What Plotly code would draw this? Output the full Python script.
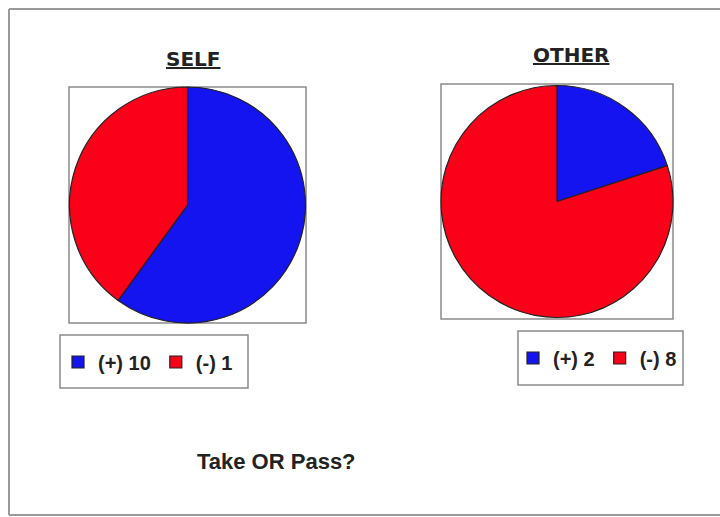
import plotly.graph_objects as go

# Slice data for the two pies
self_labels = ["(+) 10", "(-) 1"]
self_values = [60, 40]
other_labels = ["(+) 2", "(-) 8"]
other_values = [20, 80]
slice_colors = ["#1414F0", "#FA0019"]

W, H = 720, 517


def px_x(v):
    return v / W


def px_y(v):
    return 1 - v / H


fig = go.Figure()

fig.add_trace(go.Pie(
    labels=self_labels, values=self_values, sort=False, direction="clockwise",
    rotation=0, textinfo="none", hoverinfo="label+percent",
    marker=dict(colors=slice_colors, line=dict(color="#222222", width=1.2)),
    domain=dict(x=[px_x(69), px_x(306)], y=[px_y(323), px_y(87)]),
    legend="legend",
))

fig.add_trace(go.Pie(
    labels=other_labels, values=other_values, sort=False, direction="clockwise",
    rotation=0, textinfo="none", hoverinfo="label+percent",
    marker=dict(colors=slice_colors, line=dict(color="#222222", width=1.2)),
    domain=dict(x=[px_x(441), px_x(673)], y=[px_y(319), px_y(84)]),
    legend="legend2",
))

box_line = dict(color="#8a8a8a", width=1.5)
frame_line = dict(color="#9a9a9a", width=2)


def rect(x0, y0, x1, y1, line):
    return dict(type="rect", xref="paper", yref="paper", x0=px_x(x0), x1=px_x(x1),
                y0=px_y(y1), y1=px_y(y0), line=line, layer="below")


def seg(x0, y0, x1, y1, line):
    return dict(type="line", xref="paper", yref="paper", x0=px_x(x0), x1=px_x(x1),
                y0=px_y(y0), y1=px_y(y1), line=line)


shapes = [
    # outer frame: top, left and bottom edges
    seg(9, 9, 720, 9, frame_line),
    seg(9, 9, 9, 515, frame_line),
    seg(9, 515, 720, 515, frame_line),
    # frames round the pies
    rect(69, 87, 306, 323, box_line),
    rect(441, 84, 673, 319, box_line),
    # frames round the legends
    rect(60, 335, 248, 388, box_line),
    rect(518, 331, 683, 385, box_line),
]

title_font = dict(family="DejaVu Sans", size=20, color="#222222")
annotations = [
    dict(text="<b><u>SELF</u></b>", x=px_x(193), y=px_y(59), xref="paper", yref="paper",
         showarrow=False, font=title_font, xanchor="center", yanchor="middle"),
    dict(text="<b><u>OTHER</u></b>", x=px_x(571), y=px_y(55), xref="paper", yref="paper",
         showarrow=False, font=title_font, xanchor="center", yanchor="middle"),
    dict(text="<b>Take OR Pass?</b>", x=px_x(276), y=px_y(461), xref="paper", yref="paper",
         showarrow=False, font=dict(family="Liberation Sans", size=22, color="#222222"),
         xanchor="center", yanchor="middle"),
]

legend_font = dict(family="Liberation Sans", size=20, color="#222222", weight="bold")
legend_common = dict(orientation="h", xanchor="left", yanchor="middle",
                     borderwidth=0, bgcolor="rgba(0,0,0,0)",
                     font=legend_font, itemwidth=30, tracegroupgap=0)

fig.update_layout(
    width=W, height=H,
    margin=dict(l=0, r=0, t=0, b=0),
    paper_bgcolor="white",
    shapes=shapes,
    annotations=annotations,
    legend=dict(x=px_x(58), y=px_y(362), **legend_common),
    legend2=dict(x=px_x(513), y=px_y(358), **legend_common),
)

fig.write_html("out.html")
